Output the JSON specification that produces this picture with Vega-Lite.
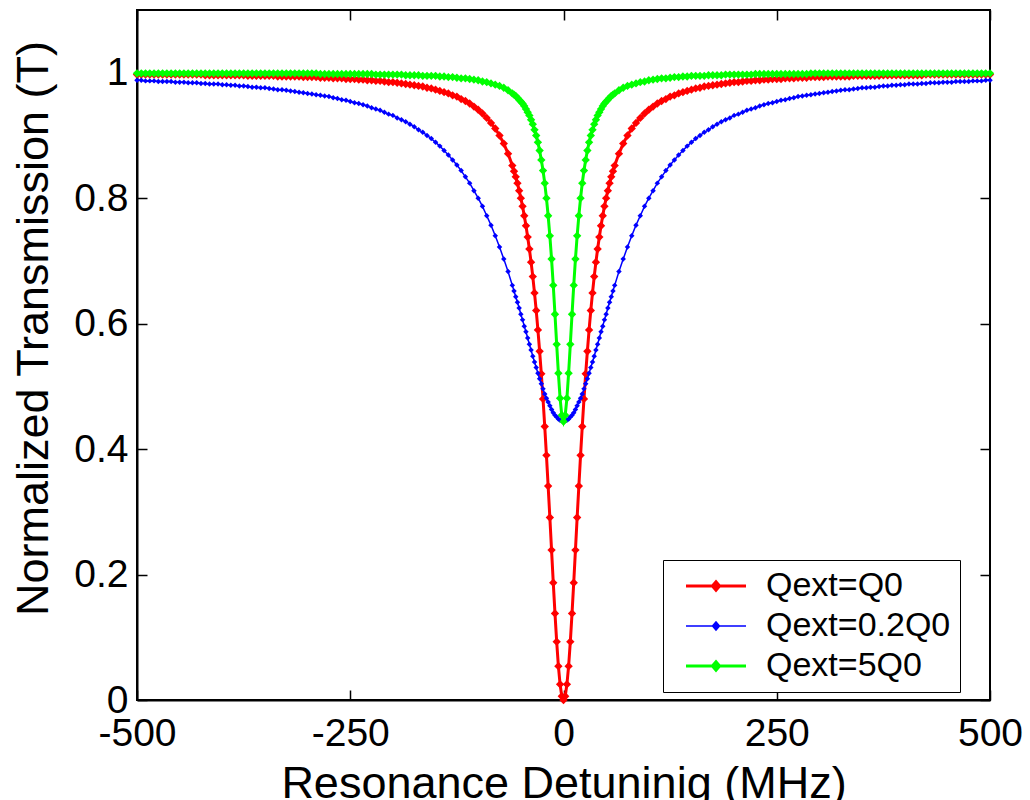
{
"$schema":"https://vega.github.io/schema/vega-lite/v6.json",
"width":853,"height":690,
"autosize":{"type":"none"},
"padding":{"left":137,"top":10,"right":40,"bottom":100},
"background":"white",
"config":{
"view":{"stroke":"#000","strokeWidth":2},
"axis":{"labelFont":"Liberation Sans","labelFontSize":39,"labelColor":"#000","titleFont":"Liberation Sans","titleFontSize":45,"titleFontWeight":"normal","titleColor":"#000","domainColor":"#000","domainWidth":2,"tickColor":"#000","tickWidth":1.5,"tickSize":-10,"grid":false,"labelFlush":false,"labelOverlap":false,"labelBound":false}
},
"datasets":{
"red":[{"d":-500,"t":0.997},{"d":-495,"t":0.997},{"d":-490,"t":0.997},{"d":-485,"t":0.997},{"d":-480,"t":0.997},{"d":-475,"t":0.997},{"d":-470,"t":0.997},{"d":-465,"t":0.997},{"d":-460,"t":0.997},{"d":-455,"t":0.997},{"d":-450,"t":0.997},{"d":-445,"t":0.997},{"d":-440,"t":0.997},{"d":-435,"t":0.997},{"d":-430,"t":0.997},{"d":-425,"t":0.997},{"d":-420,"t":0.996},{"d":-415,"t":0.996},{"d":-410,"t":0.996},{"d":-405,"t":0.996},{"d":-400,"t":0.996},{"d":-395,"t":0.996},{"d":-390,"t":0.996},{"d":-385,"t":0.996},{"d":-380,"t":0.996},{"d":-375,"t":0.996},{"d":-370,"t":0.995},{"d":-365,"t":0.995},{"d":-360,"t":0.995},{"d":-355,"t":0.995},{"d":-350,"t":0.995},{"d":-345,"t":0.995},{"d":-340,"t":0.995},{"d":-335,"t":0.994},{"d":-330,"t":0.994},{"d":-325,"t":0.994},{"d":-320,"t":0.994},{"d":-315,"t":0.994},{"d":-310,"t":0.994},{"d":-305,"t":0.993},{"d":-300,"t":0.993},{"d":-295,"t":0.993},{"d":-290,"t":0.993},{"d":-285,"t":0.992},{"d":-280,"t":0.992},{"d":-275,"t":0.992},{"d":-270,"t":0.991},{"d":-265,"t":0.991},{"d":-260,"t":0.991},{"d":-255,"t":0.99},{"d":-250,"t":0.99},{"d":-245,"t":0.99},{"d":-240,"t":0.989},{"d":-235,"t":0.989},{"d":-230,"t":0.988},{"d":-225,"t":0.988},{"d":-220,"t":0.987},{"d":-215,"t":0.987},{"d":-210,"t":0.986},{"d":-205,"t":0.985},{"d":-200,"t":0.985},{"d":-195,"t":0.984},{"d":-190,"t":0.983},{"d":-185,"t":0.982},{"d":-180,"t":0.981},{"d":-175,"t":0.98},{"d":-170,"t":0.979},{"d":-165,"t":0.978},{"d":-160,"t":0.976},{"d":-155,"t":0.975},{"d":-150,"t":0.973},{"d":-145,"t":0.971},{"d":-140,"t":0.969},{"d":-135,"t":0.967},{"d":-130,"t":0.964},{"d":-125,"t":0.962},{"d":-120,"t":0.958},{"d":-115,"t":0.955},{"d":-110,"t":0.951},{"d":-105,"t":0.946},{"d":-100,"t":0.941},{"d":-95,"t":0.935},{"d":-90,"t":0.928},{"d":-85,"t":0.92},{"d":-80,"t":0.911},{"d":-75,"t":0.9},{"d":-70,"t":0.887},{"d":-65,"t":0.871},{"d":-60,"t":0.852},{"d":-58,"t":0.843},{"d":-56,"t":0.834},{"d":-54,"t":0.824},{"d":-52,"t":0.812},{"d":-50,"t":0.8},{"d":-48,"t":0.787},{"d":-46,"t":0.772},{"d":-44,"t":0.756},{"d":-42,"t":0.738},{"d":-40,"t":0.719},{"d":-38,"t":0.698},{"d":-36,"t":0.675},{"d":-34,"t":0.649},{"d":-32,"t":0.621},{"d":-30,"t":0.59},{"d":-28,"t":0.556},{"d":-26,"t":0.52},{"d":-24,"t":0.48},{"d":-22,"t":0.436},{"d":-20,"t":0.39},{"d":-18,"t":0.341},{"d":-16,"t":0.291},{"d":-14,"t":0.239},{"d":-12,"t":0.187},{"d":-10,"t":0.138},{"d":-8,"t":0.093},{"d":-6,"t":0.054},{"d":-4,"t":0.025},{"d":-2,"t":0.006},{"d":0,"t":0},{"d":2,"t":0.006},{"d":4,"t":0.025},{"d":6,"t":0.054},{"d":8,"t":0.093},{"d":10,"t":0.138},{"d":12,"t":0.187},{"d":14,"t":0.239},{"d":16,"t":0.291},{"d":18,"t":0.341},{"d":20,"t":0.39},{"d":22,"t":0.436},{"d":24,"t":0.48},{"d":26,"t":0.52},{"d":28,"t":0.556},{"d":30,"t":0.59},{"d":32,"t":0.621},{"d":34,"t":0.649},{"d":36,"t":0.675},{"d":38,"t":0.698},{"d":40,"t":0.719},{"d":42,"t":0.738},{"d":44,"t":0.756},{"d":46,"t":0.772},{"d":48,"t":0.787},{"d":50,"t":0.8},{"d":52,"t":0.812},{"d":54,"t":0.824},{"d":56,"t":0.834},{"d":58,"t":0.843},{"d":60,"t":0.852},{"d":65,"t":0.871},{"d":70,"t":0.887},{"d":75,"t":0.9},{"d":80,"t":0.911},{"d":85,"t":0.92},{"d":90,"t":0.928},{"d":95,"t":0.935},{"d":100,"t":0.941},{"d":105,"t":0.946},{"d":110,"t":0.951},{"d":115,"t":0.955},{"d":120,"t":0.958},{"d":125,"t":0.962},{"d":130,"t":0.964},{"d":135,"t":0.967},{"d":140,"t":0.969},{"d":145,"t":0.971},{"d":150,"t":0.973},{"d":155,"t":0.975},{"d":160,"t":0.976},{"d":165,"t":0.978},{"d":170,"t":0.979},{"d":175,"t":0.98},{"d":180,"t":0.981},{"d":185,"t":0.982},{"d":190,"t":0.983},{"d":195,"t":0.984},{"d":200,"t":0.985},{"d":205,"t":0.985},{"d":210,"t":0.986},{"d":215,"t":0.987},{"d":220,"t":0.987},{"d":225,"t":0.988},{"d":230,"t":0.988},{"d":235,"t":0.989},{"d":240,"t":0.989},{"d":245,"t":0.99},{"d":250,"t":0.99},{"d":255,"t":0.99},{"d":260,"t":0.991},{"d":265,"t":0.991},{"d":270,"t":0.991},{"d":275,"t":0.992},{"d":280,"t":0.992},{"d":285,"t":0.992},{"d":290,"t":0.993},{"d":295,"t":0.993},{"d":300,"t":0.993},{"d":305,"t":0.993},{"d":310,"t":0.994},{"d":315,"t":0.994},{"d":320,"t":0.994},{"d":325,"t":0.994},{"d":330,"t":0.994},{"d":335,"t":0.994},{"d":340,"t":0.995},{"d":345,"t":0.995},{"d":350,"t":0.995},{"d":355,"t":0.995},{"d":360,"t":0.995},{"d":365,"t":0.995},{"d":370,"t":0.995},{"d":375,"t":0.996},{"d":380,"t":0.996},{"d":385,"t":0.996},{"d":390,"t":0.996},{"d":395,"t":0.996},{"d":400,"t":0.996},{"d":405,"t":0.996},{"d":410,"t":0.996},{"d":415,"t":0.996},{"d":420,"t":0.996},{"d":425,"t":0.997},{"d":430,"t":0.997},{"d":435,"t":0.997},{"d":440,"t":0.997},{"d":445,"t":0.997},{"d":450,"t":0.997},{"d":455,"t":0.997},{"d":460,"t":0.997},{"d":465,"t":0.997},{"d":470,"t":0.997},{"d":475,"t":0.997},{"d":480,"t":0.997},{"d":485,"t":0.997},{"d":490,"t":0.997},{"d":495,"t":0.997},{"d":500,"t":0.997}],
"blue":[{"d":-500,"t":0.988},{"d":-495,"t":0.988},{"d":-490,"t":0.987},{"d":-485,"t":0.987},{"d":-480,"t":0.987},{"d":-475,"t":0.986},{"d":-470,"t":0.986},{"d":-465,"t":0.986},{"d":-460,"t":0.986},{"d":-455,"t":0.985},{"d":-450,"t":0.985},{"d":-445,"t":0.985},{"d":-440,"t":0.984},{"d":-435,"t":0.984},{"d":-430,"t":0.984},{"d":-425,"t":0.983},{"d":-420,"t":0.983},{"d":-415,"t":0.982},{"d":-410,"t":0.982},{"d":-405,"t":0.982},{"d":-400,"t":0.981},{"d":-395,"t":0.981},{"d":-390,"t":0.98},{"d":-385,"t":0.98},{"d":-380,"t":0.979},{"d":-375,"t":0.979},{"d":-370,"t":0.978},{"d":-365,"t":0.977},{"d":-360,"t":0.977},{"d":-355,"t":0.976},{"d":-350,"t":0.976},{"d":-345,"t":0.975},{"d":-340,"t":0.974},{"d":-335,"t":0.973},{"d":-330,"t":0.973},{"d":-325,"t":0.972},{"d":-320,"t":0.971},{"d":-315,"t":0.97},{"d":-310,"t":0.969},{"d":-305,"t":0.968},{"d":-300,"t":0.967},{"d":-295,"t":0.966},{"d":-290,"t":0.965},{"d":-285,"t":0.964},{"d":-280,"t":0.963},{"d":-275,"t":0.962},{"d":-270,"t":0.96},{"d":-265,"t":0.959},{"d":-260,"t":0.957},{"d":-255,"t":0.956},{"d":-250,"t":0.954},{"d":-245,"t":0.952},{"d":-240,"t":0.951},{"d":-235,"t":0.949},{"d":-230,"t":0.947},{"d":-225,"t":0.944},{"d":-220,"t":0.942},{"d":-215,"t":0.94},{"d":-210,"t":0.937},{"d":-205,"t":0.934},{"d":-200,"t":0.932},{"d":-195,"t":0.928},{"d":-190,"t":0.925},{"d":-185,"t":0.922},{"d":-180,"t":0.918},{"d":-175,"t":0.914},{"d":-170,"t":0.909},{"d":-165,"t":0.905},{"d":-160,"t":0.9},{"d":-155,"t":0.895},{"d":-150,"t":0.889},{"d":-145,"t":0.883},{"d":-140,"t":0.876},{"d":-135,"t":0.869},{"d":-130,"t":0.861},{"d":-125,"t":0.853},{"d":-120,"t":0.844},{"d":-115,"t":0.834},{"d":-110,"t":0.824},{"d":-105,"t":0.812},{"d":-100,"t":0.8},{"d":-95,"t":0.787},{"d":-90,"t":0.772},{"d":-85,"t":0.757},{"d":-80,"t":0.74},{"d":-75,"t":0.722},{"d":-70,"t":0.703},{"d":-65,"t":0.683},{"d":-60,"t":0.661},{"d":-58,"t":0.652},{"d":-56,"t":0.643},{"d":-54,"t":0.634},{"d":-52,"t":0.625},{"d":-50,"t":0.615},{"d":-48,"t":0.606},{"d":-46,"t":0.596},{"d":-44,"t":0.587},{"d":-42,"t":0.577},{"d":-40,"t":0.567},{"d":-38,"t":0.558},{"d":-36,"t":0.548},{"d":-34,"t":0.539},{"d":-32,"t":0.53},{"d":-30,"t":0.521},{"d":-28,"t":0.512},{"d":-26,"t":0.504},{"d":-24,"t":0.496},{"d":-22,"t":0.488},{"d":-20,"t":0.481},{"d":-18,"t":0.475},{"d":-16,"t":0.469},{"d":-14,"t":0.463},{"d":-12,"t":0.458},{"d":-10,"t":0.454},{"d":-8,"t":0.451},{"d":-6,"t":0.448},{"d":-4,"t":0.446},{"d":-2,"t":0.445},{"d":0,"t":0.444},{"d":2,"t":0.445},{"d":4,"t":0.446},{"d":6,"t":0.448},{"d":8,"t":0.451},{"d":10,"t":0.454},{"d":12,"t":0.458},{"d":14,"t":0.463},{"d":16,"t":0.469},{"d":18,"t":0.475},{"d":20,"t":0.481},{"d":22,"t":0.488},{"d":24,"t":0.496},{"d":26,"t":0.504},{"d":28,"t":0.512},{"d":30,"t":0.521},{"d":32,"t":0.53},{"d":34,"t":0.539},{"d":36,"t":0.548},{"d":38,"t":0.558},{"d":40,"t":0.567},{"d":42,"t":0.577},{"d":44,"t":0.587},{"d":46,"t":0.596},{"d":48,"t":0.606},{"d":50,"t":0.615},{"d":52,"t":0.625},{"d":54,"t":0.634},{"d":56,"t":0.643},{"d":58,"t":0.652},{"d":60,"t":0.661},{"d":65,"t":0.683},{"d":70,"t":0.703},{"d":75,"t":0.722},{"d":80,"t":0.74},{"d":85,"t":0.757},{"d":90,"t":0.772},{"d":95,"t":0.787},{"d":100,"t":0.8},{"d":105,"t":0.812},{"d":110,"t":0.824},{"d":115,"t":0.834},{"d":120,"t":0.844},{"d":125,"t":0.853},{"d":130,"t":0.861},{"d":135,"t":0.869},{"d":140,"t":0.876},{"d":145,"t":0.883},{"d":150,"t":0.889},{"d":155,"t":0.895},{"d":160,"t":0.9},{"d":165,"t":0.905},{"d":170,"t":0.909},{"d":175,"t":0.914},{"d":180,"t":0.918},{"d":185,"t":0.922},{"d":190,"t":0.925},{"d":195,"t":0.928},{"d":200,"t":0.932},{"d":205,"t":0.934},{"d":210,"t":0.937},{"d":215,"t":0.94},{"d":220,"t":0.942},{"d":225,"t":0.944},{"d":230,"t":0.947},{"d":235,"t":0.949},{"d":240,"t":0.951},{"d":245,"t":0.952},{"d":250,"t":0.954},{"d":255,"t":0.956},{"d":260,"t":0.957},{"d":265,"t":0.959},{"d":270,"t":0.96},{"d":275,"t":0.962},{"d":280,"t":0.963},{"d":285,"t":0.964},{"d":290,"t":0.965},{"d":295,"t":0.966},{"d":300,"t":0.967},{"d":305,"t":0.968},{"d":310,"t":0.969},{"d":315,"t":0.97},{"d":320,"t":0.971},{"d":325,"t":0.972},{"d":330,"t":0.973},{"d":335,"t":0.973},{"d":340,"t":0.974},{"d":345,"t":0.975},{"d":350,"t":0.976},{"d":355,"t":0.976},{"d":360,"t":0.977},{"d":365,"t":0.977},{"d":370,"t":0.978},{"d":375,"t":0.979},{"d":380,"t":0.979},{"d":385,"t":0.98},{"d":390,"t":0.98},{"d":395,"t":0.981},{"d":400,"t":0.981},{"d":405,"t":0.982},{"d":410,"t":0.982},{"d":415,"t":0.982},{"d":420,"t":0.983},{"d":425,"t":0.983},{"d":430,"t":0.984},{"d":435,"t":0.984},{"d":440,"t":0.984},{"d":445,"t":0.985},{"d":450,"t":0.985},{"d":455,"t":0.985},{"d":460,"t":0.986},{"d":465,"t":0.986},{"d":470,"t":0.986},{"d":475,"t":0.986},{"d":480,"t":0.987},{"d":485,"t":0.987},{"d":490,"t":0.987},{"d":495,"t":0.988},{"d":500,"t":0.988}],
"green":[{"d":-500,"t":0.999},{"d":-495,"t":0.999},{"d":-490,"t":0.999},{"d":-485,"t":0.999},{"d":-480,"t":0.999},{"d":-475,"t":0.999},{"d":-470,"t":0.999},{"d":-465,"t":0.999},{"d":-460,"t":0.999},{"d":-455,"t":0.999},{"d":-450,"t":0.999},{"d":-445,"t":0.999},{"d":-440,"t":0.999},{"d":-435,"t":0.999},{"d":-430,"t":0.999},{"d":-425,"t":0.999},{"d":-420,"t":0.999},{"d":-415,"t":0.999},{"d":-410,"t":0.999},{"d":-405,"t":0.999},{"d":-400,"t":0.999},{"d":-395,"t":0.999},{"d":-390,"t":0.999},{"d":-385,"t":0.999},{"d":-380,"t":0.999},{"d":-375,"t":0.999},{"d":-370,"t":0.999},{"d":-365,"t":0.999},{"d":-360,"t":0.999},{"d":-355,"t":0.999},{"d":-350,"t":0.999},{"d":-345,"t":0.999},{"d":-340,"t":0.999},{"d":-335,"t":0.999},{"d":-330,"t":0.999},{"d":-325,"t":0.999},{"d":-320,"t":0.999},{"d":-315,"t":0.999},{"d":-310,"t":0.999},{"d":-305,"t":0.999},{"d":-300,"t":0.999},{"d":-295,"t":0.999},{"d":-290,"t":0.999},{"d":-285,"t":0.998},{"d":-280,"t":0.998},{"d":-275,"t":0.998},{"d":-270,"t":0.998},{"d":-265,"t":0.998},{"d":-260,"t":0.998},{"d":-255,"t":0.998},{"d":-250,"t":0.998},{"d":-245,"t":0.998},{"d":-240,"t":0.998},{"d":-235,"t":0.998},{"d":-230,"t":0.998},{"d":-225,"t":0.998},{"d":-220,"t":0.997},{"d":-215,"t":0.997},{"d":-210,"t":0.997},{"d":-205,"t":0.997},{"d":-200,"t":0.997},{"d":-195,"t":0.997},{"d":-190,"t":0.997},{"d":-185,"t":0.996},{"d":-180,"t":0.996},{"d":-175,"t":0.996},{"d":-170,"t":0.996},{"d":-165,"t":0.995},{"d":-160,"t":0.995},{"d":-155,"t":0.995},{"d":-150,"t":0.995},{"d":-145,"t":0.994},{"d":-140,"t":0.994},{"d":-135,"t":0.993},{"d":-130,"t":0.993},{"d":-125,"t":0.992},{"d":-120,"t":0.991},{"d":-115,"t":0.991},{"d":-110,"t":0.99},{"d":-105,"t":0.989},{"d":-100,"t":0.988},{"d":-95,"t":0.986},{"d":-90,"t":0.985},{"d":-85,"t":0.983},{"d":-80,"t":0.981},{"d":-75,"t":0.979},{"d":-70,"t":0.976},{"d":-65,"t":0.972},{"d":-60,"t":0.967},{"d":-58,"t":0.965},{"d":-56,"t":0.963},{"d":-54,"t":0.96},{"d":-52,"t":0.957},{"d":-50,"t":0.954},{"d":-48,"t":0.951},{"d":-46,"t":0.947},{"d":-44,"t":0.942},{"d":-42,"t":0.937},{"d":-40,"t":0.932},{"d":-38,"t":0.925},{"d":-36,"t":0.918},{"d":-34,"t":0.909},{"d":-32,"t":0.9},{"d":-30,"t":0.889},{"d":-28,"t":0.876},{"d":-26,"t":0.861},{"d":-24,"t":0.844},{"d":-22,"t":0.824},{"d":-20,"t":0.8},{"d":-18,"t":0.772},{"d":-16,"t":0.74},{"d":-14,"t":0.703},{"d":-12,"t":0.661},{"d":-10,"t":0.615},{"d":-8,"t":0.567},{"d":-6,"t":0.521},{"d":-4,"t":0.481},{"d":-2,"t":0.454},{"d":0,"t":0.444},{"d":2,"t":0.454},{"d":4,"t":0.481},{"d":6,"t":0.521},{"d":8,"t":0.567},{"d":10,"t":0.615},{"d":12,"t":0.661},{"d":14,"t":0.703},{"d":16,"t":0.74},{"d":18,"t":0.772},{"d":20,"t":0.8},{"d":22,"t":0.824},{"d":24,"t":0.844},{"d":26,"t":0.861},{"d":28,"t":0.876},{"d":30,"t":0.889},{"d":32,"t":0.9},{"d":34,"t":0.909},{"d":36,"t":0.918},{"d":38,"t":0.925},{"d":40,"t":0.932},{"d":42,"t":0.937},{"d":44,"t":0.942},{"d":46,"t":0.947},{"d":48,"t":0.951},{"d":50,"t":0.954},{"d":52,"t":0.957},{"d":54,"t":0.96},{"d":56,"t":0.963},{"d":58,"t":0.965},{"d":60,"t":0.967},{"d":65,"t":0.972},{"d":70,"t":0.976},{"d":75,"t":0.979},{"d":80,"t":0.981},{"d":85,"t":0.983},{"d":90,"t":0.985},{"d":95,"t":0.986},{"d":100,"t":0.988},{"d":105,"t":0.989},{"d":110,"t":0.99},{"d":115,"t":0.991},{"d":120,"t":0.991},{"d":125,"t":0.992},{"d":130,"t":0.993},{"d":135,"t":0.993},{"d":140,"t":0.994},{"d":145,"t":0.994},{"d":150,"t":0.995},{"d":155,"t":0.995},{"d":160,"t":0.995},{"d":165,"t":0.995},{"d":170,"t":0.996},{"d":175,"t":0.996},{"d":180,"t":0.996},{"d":185,"t":0.996},{"d":190,"t":0.997},{"d":195,"t":0.997},{"d":200,"t":0.997},{"d":205,"t":0.997},{"d":210,"t":0.997},{"d":215,"t":0.997},{"d":220,"t":0.997},{"d":225,"t":0.998},{"d":230,"t":0.998},{"d":235,"t":0.998},{"d":240,"t":0.998},{"d":245,"t":0.998},{"d":250,"t":0.998},{"d":255,"t":0.998},{"d":260,"t":0.998},{"d":265,"t":0.998},{"d":270,"t":0.998},{"d":275,"t":0.998},{"d":280,"t":0.998},{"d":285,"t":0.998},{"d":290,"t":0.999},{"d":295,"t":0.999},{"d":300,"t":0.999},{"d":305,"t":0.999},{"d":310,"t":0.999},{"d":315,"t":0.999},{"d":320,"t":0.999},{"d":325,"t":0.999},{"d":330,"t":0.999},{"d":335,"t":0.999},{"d":340,"t":0.999},{"d":345,"t":0.999},{"d":350,"t":0.999},{"d":355,"t":0.999},{"d":360,"t":0.999},{"d":365,"t":0.999},{"d":370,"t":0.999},{"d":375,"t":0.999},{"d":380,"t":0.999},{"d":385,"t":0.999},{"d":390,"t":0.999},{"d":395,"t":0.999},{"d":400,"t":0.999},{"d":405,"t":0.999},{"d":410,"t":0.999},{"d":415,"t":0.999},{"d":420,"t":0.999},{"d":425,"t":0.999},{"d":430,"t":0.999},{"d":435,"t":0.999},{"d":440,"t":0.999},{"d":445,"t":0.999},{"d":450,"t":0.999},{"d":455,"t":0.999},{"d":460,"t":0.999},{"d":465,"t":0.999},{"d":470,"t":0.999},{"d":475,"t":0.999},{"d":480,"t":0.999},{"d":485,"t":0.999},{"d":490,"t":0.999},{"d":495,"t":0.999},{"d":500,"t":0.999}]
},
"layer":[
{"layer":[
{"data":{"name":"red"},"mark":{"type":"line","strokeWidth":3,"point":{"shape":"diamond","size":70,"filled":true,"opacity":1}},
"encoding":{
"x":{"field":"d","type":"quantitative","scale":{"domain":[-500,500],"nice":false,"zero":false},"axis":{"orient":"bottom","values":[-500,-250,0,250,500],"labelExpr":"datum.value < 0 ? '-' + abs(datum.value) : '' + datum.value","title":"Resonance Detuninig (MHz)","labelPadding":24,"titleY":97,"titleBaseline":"alphabetic"}},
"y":{"field":"t","type":"quantitative","scale":{"domain":[0,1.1],"nice":false,"zero":false},"axis":{"orient":"left","values":[0,0.2,0.4,0.6,0.8,1],"format":"~g","title":"Normalized Transmission (T)","labelPadding":19,"titleX":-90,"titleY":318,"titleAngle":-90,"titleAlign":"center","titleBaseline":"alphabetic"}},
"color":{"datum":"Qext=Q0","scale":{"domain":["Qext=Q0","Qext=0.2Q0","Qext=5Q0"],"range":["#ff0000","#0000ff","#00ff00"]},"legend":{"orient":"none","legendX":526,"legendY":550,"title":null,"symbolType":"M-3,0H3M-0.36,0L0,-0.42L0.36,0L0,0.42Z","symbolSize":400,"symbolOffset":27,"symbolStrokeWidth":3,"labelOffset":33,"labelLimit":500,"labelFont":"Liberation Sans","labelFontSize":34,"labelColor":"#000","rowPadding":6,"padding":9,"strokeColor":"#000","fillColor":"#fff","encode":{"symbols":{"update":{"fill":{"scale":"color","field":"value"},"stroke":{"scale":"color","field":"value"},"strokeWidth":{"signal":"datum.value=='Qext=0.2Q0'?1.3:3"},"opacity":{"value":1}}}}}}
}},
{"data":{"name":"blue"},"mark":{"type":"line","strokeWidth":1.5,"point":{"shape":"diamond","size":30,"filled":true,"opacity":1}},
"encoding":{
"x":{"field":"d","type":"quantitative","scale":{"domain":[-500,500],"nice":false,"zero":false}},
"y":{"field":"t","type":"quantitative","scale":{"domain":[0,1.1],"nice":false,"zero":false}},
"color":{"datum":"Qext=0.2Q0"}
}},
{"data":{"name":"green"},"mark":{"type":"line","strokeWidth":3,"point":{"shape":"diamond","size":70,"filled":true,"opacity":1}},
"encoding":{
"x":{"field":"d","type":"quantitative","scale":{"domain":[-500,500],"nice":false,"zero":false}},
"y":{"field":"t","type":"quantitative","scale":{"domain":[0,1.1],"nice":false,"zero":false}},
"color":{"datum":"Qext=5Q0"}
}}
]},
{"data":{"name":"blue"},"mark":{"type":"point","opacity":0},
"encoding":{
"x":{"field":"d","type":"quantitative","scale":{"domain":[-500,500],"nice":false,"zero":false},"axis":{"orient":"top","values":[-500,-250,0,250,500],"labels":false,"title":null,"domain":false}},
"y":{"field":"t","type":"quantitative","scale":{"domain":[0,1.1],"nice":false,"zero":false},"axis":{"orient":"right","values":[0,0.2,0.4,0.6,0.8,1],"labels":false,"title":null,"domain":false}}
}}
],
"resolve":{"axis":{"x":"independent","y":"independent"}}
}
